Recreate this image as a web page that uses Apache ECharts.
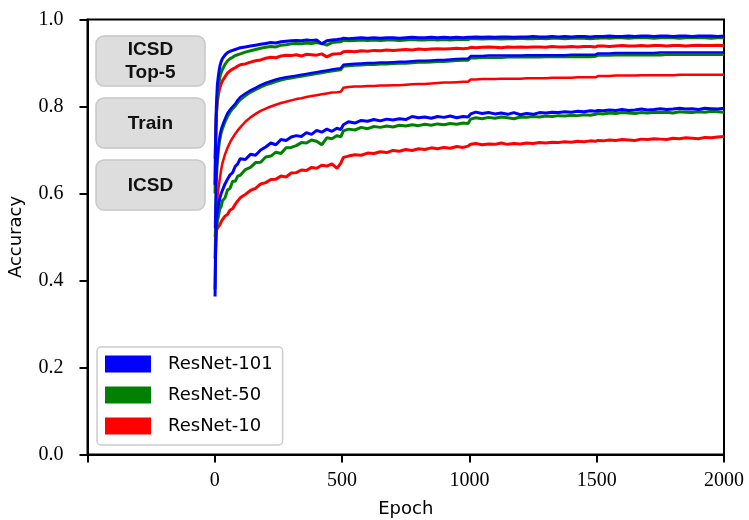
<!DOCTYPE html>
<html>
<head>
<meta charset="utf-8">
<script src="https://cdn.jsdelivr.net/npm/echarts@6/dist/echarts.min.js"></script>
<style>html,body{margin:0;padding:0;background:#fff}#c{width:749px;height:520px}</style>
</head>
<body>
<div id="c"></div>
<script>
const epochs = [1,3,6,10,15,20,25,30,40,50,60,70,80,90,100,
120,140,160,180,200,220,240,260,280,300,320,340,360,380,400,420,440,460,480,495,
505,525,550,575,600,625,650,675,700,725,750,775,800,825,850,875,900,925,950,975,995,
1005,1025,1050,1075,1100,1125,1150,1175,1200,1225,1250,1275,1300,1325,1350,1375,1400,1425,1450,1475,1495,
1505,1525,1550,1575,1600,1625,1650,1675,1700,1725,1750,1775,1800,1825,1850,1875,1900,1925,1950,1975,2000];

const modelNames = ['ResNet-101','ResNet-50','ResNet-10'];
const panelLabels = ['ICSD\nTop-5','Train','ICSD'];
const xTicks = [-500,0,500,1000,1500,2000];
const yTicks = [0,0.2,0.4,0.6,0.8,1.0];

const icsd101 = [0.363,0.47,0.535,0.56,0.575,0.59,0.60,0.603,0.622,0.633,0.643,0.648,0.662,0.668,0.68,
0.678,0.69,0.688,0.70,0.707,0.716,0.712,0.724,0.722,0.73,0.733,0.731,0.74,0.736,0.745,0.741,0.748,0.743,0.75,0.747,
0.758,0.765,0.762,0.768,0.766,0.770,0.767,0.771,0.769,0.772,0.770,0.777,0.774,0.776,0.773,0.777,0.775,0.778,0.774,0.777,0.776,
0.783,0.787,0.784,0.786,0.783,0.785,0.782,0.786,0.781,0.784,0.782,0.786,0.785,0.787,0.786,0.788,0.787,0.789,0.788,0.790,0.789,
0.791,0.790,0.792,0.791,0.793,0.791,0.792,0.794,0.792,0.793,0.795,0.793,0.794,0.796,0.794,0.795,0.793,0.796,0.795,0.794,0.796];
const icsd50 = [0.38,0.46,0.51,0.535,0.55,0.565,0.57,0.583,0.59,0.608,0.612,0.628,0.628,0.64,0.642,
0.655,0.66,0.671,0.672,0.684,0.686,0.695,0.692,0.705,0.706,0.71,0.717,0.716,0.723,0.72,0.712,0.728,0.726,0.733,0.73,
0.744,0.748,0.746,0.752,0.749,0.754,0.752,0.755,0.753,0.757,0.755,0.758,0.756,0.759,0.757,0.760,0.758,0.761,0.759,0.762,0.761,
0.771,0.774,0.772,0.775,0.773,0.776,0.774,0.772,0.776,0.775,0.777,0.776,0.778,0.777,0.779,0.778,0.780,0.779,0.781,0.780,0.782,
0.784,0.783,0.785,0.784,0.786,0.785,0.784,0.786,0.785,0.787,0.786,0.787,0.785,0.788,0.787,0.786,0.788,0.787,0.789,0.788,0.787];
const icsd10 = [0.45,0.50,0.515,0.52,0.518,0.528,0.535,0.54,0.548,0.552,0.562,0.565,0.575,0.583,0.59,
0.598,0.607,0.612,0.622,0.625,0.632,0.633,0.64,0.638,0.647,0.648,0.654,0.653,0.66,0.658,0.665,0.663,0.668,0.658,0.67,
0.683,0.686,0.689,0.688,0.693,0.692,0.696,0.694,0.699,0.697,0.701,0.699,0.703,0.701,0.705,0.703,0.706,0.704,0.708,0.706,0.709,
0.713,0.715,0.712,0.714,0.713,0.716,0.713,0.715,0.714,0.716,0.715,0.717,0.716,0.718,0.717,0.719,0.718,0.720,0.719,0.721,0.720,
0.722,0.721,0.723,0.722,0.724,0.723,0.722,0.725,0.724,0.726,0.725,0.724,0.727,0.726,0.728,0.727,0.726,0.729,0.728,0.730,0.731];

const train101 = [0.52,0.58,0.64,0.68,0.715,0.735,0.748,0.757,0.772,0.785,0.793,0.80,0.806,0.815,0.822,
0.83,0.837,0.843,0.849,0.854,0.858,0.862,0.865,0.867,0.869,0.871,0.873,0.875,0.877,0.879,0.881,0.883,0.885,0.887,0.888,
0.896,0.897,0.898,0.899,0.900,0.900,0.901,0.901,0.902,0.903,0.903,0.904,0.905,0.905,0.906,0.907,0.907,0.908,0.909,0.910,0.910,
0.916,0.916,0.916,0.917,0.917,0.917,0.917,0.917,0.917,0.918,0.918,0.918,0.918,0.918,0.918,0.918,0.919,0.919,0.919,0.919,0.919,
0.922,0.922,0.922,0.923,0.923,0.923,0.923,0.923,0.923,0.923,0.924,0.924,0.924,0.924,0.924,0.924,0.924,0.924,0.924,0.924,0.924];
const train50 = [0.50,0.56,0.62,0.665,0.70,0.722,0.737,0.747,0.763,0.776,0.786,0.794,0.800,0.808,0.815,
0.824,0.832,0.838,0.844,0.849,0.853,0.857,0.860,0.863,0.865,0.867,0.869,0.871,0.873,0.875,0.877,0.879,0.881,0.883,0.884,
0.892,0.893,0.894,0.895,0.896,0.896,0.897,0.897,0.898,0.899,0.899,0.900,0.901,0.901,0.902,0.903,0.903,0.904,0.905,0.906,0.906,
0.911,0.911,0.912,0.912,0.912,0.912,0.913,0.913,0.913,0.913,0.913,0.913,0.914,0.914,0.914,0.914,0.914,0.914,0.914,0.914,0.915,
0.917,0.917,0.917,0.918,0.918,0.918,0.918,0.918,0.918,0.918,0.918,0.919,0.919,0.919,0.919,0.919,0.919,0.919,0.919,0.919,0.919];
const train10 = [0.50,0.53,0.56,0.59,0.615,0.635,0.655,0.67,0.69,0.705,0.718,0.728,0.737,0.745,0.752,
0.765,0.775,0.783,0.79,0.795,0.80,0.804,0.808,0.811,0.814,0.817,0.819,0.822,0.824,0.826,0.828,0.830,0.832,0.833,0.834,
0.843,0.845,0.846,0.846,0.847,0.847,0.848,0.848,0.849,0.849,0.850,0.851,0.852,0.852,0.853,0.854,0.855,0.855,0.856,0.857,0.857,
0.862,0.862,0.863,0.863,0.863,0.864,0.864,0.864,0.864,0.865,0.865,0.865,0.865,0.866,0.866,0.866,0.866,0.867,0.867,0.867,0.867,
0.870,0.870,0.870,0.871,0.871,0.871,0.871,0.872,0.872,0.872,0.872,0.872,0.872,0.873,0.873,0.873,0.873,0.873,0.873,0.873,0.873];

const top5_101 = [0.62,0.72,0.80,0.85,0.875,0.893,0.903,0.91,0.918,0.924,0.927,0.929,0.931,0.933,0.935,
0.937,0.939,0.941,0.943,0.945,0.947,0.946,0.949,0.950,0.951,0.952,0.951,0.953,0.952,0.953,0.944,0.951,0.953,0.954,0.955,
0.957,0.956,0.957,0.958,0.957,0.958,0.957,0.958,0.958,0.957,0.958,0.959,0.958,0.958,0.959,0.958,0.959,0.958,0.959,0.958,0.959,
0.959,0.960,0.959,0.960,0.959,0.960,0.960,0.959,0.960,0.960,0.961,0.960,0.960,0.961,0.960,0.961,0.960,0.961,0.961,0.960,0.961,
0.961,0.961,0.962,0.961,0.961,0.962,0.961,0.962,0.962,0.961,0.962,0.962,0.961,0.962,0.962,0.961,0.962,0.962,0.962,0.961,0.962];
const top5_50 = [0.60,0.70,0.78,0.825,0.85,0.868,0.878,0.885,0.897,0.905,0.91,0.913,0.917,0.919,0.921,
0.925,0.928,0.931,0.934,0.936,0.938,0.937,0.941,0.942,0.944,0.945,0.944,0.946,0.945,0.947,0.945,0.941,0.947,0.948,0.949,
0.952,0.951,0.952,0.953,0.952,0.953,0.952,0.953,0.953,0.952,0.953,0.954,0.953,0.953,0.954,0.953,0.954,0.953,0.954,0.954,0.954,
0.956,0.956,0.955,0.956,0.956,0.955,0.956,0.956,0.957,0.956,0.956,0.957,0.956,0.957,0.957,0.956,0.957,0.957,0.957,0.956,0.957,
0.957,0.958,0.957,0.958,0.958,0.957,0.958,0.958,0.958,0.957,0.958,0.958,0.958,0.957,0.958,0.958,0.958,0.958,0.957,0.958,0.958];
const top5_10 = [0.68,0.72,0.78,0.81,0.83,0.843,0.852,0.859,0.868,0.877,0.882,0.886,0.889,0.893,0.896,
0.898,0.902,0.905,0.907,0.911,0.913,0.912,0.916,0.918,0.917,0.919,0.916,0.920,0.919,0.918,0.921,0.914,0.920,0.921,0.922,
0.926,0.927,0.926,0.928,0.927,0.929,0.928,0.930,0.929,0.930,0.931,0.930,0.932,0.931,0.932,0.933,0.932,0.933,0.934,0.933,0.934,
0.936,0.935,0.936,0.937,0.936,0.935,0.937,0.936,0.937,0.936,0.937,0.937,0.936,0.938,0.937,0.937,0.938,0.937,0.938,0.938,0.937,
0.939,0.939,0.938,0.939,0.940,0.939,0.939,0.940,0.939,0.940,0.940,0.939,0.940,0.940,0.939,0.940,0.941,0.940,0.940,0.941,0.940];

const colors = {'ResNet-101':'#0000ff','ResNet-50':'#008000','ResNet-10':'#ff0000'};
const groups = [
  {name:'ResNet-10', sets:[[icsd10,3],[train10,2.5],[top5_10,3]]},
  {name:'ResNet-50', sets:[[icsd50,3],[train50,2.5],[top5_50,3]]},
  {name:'ResNet-101', sets:[[icsd101,3],[train101,2.5],[top5_101,3]]}
];
const series = [];
groups.forEach(g => g.sets.forEach(([vals,w]) => {
  series.push({
    name: g.name, type: 'line', symbol: 'none', animation: false,
    color: colors[g.name],
    lineStyle: {width: w, color: colors[g.name]},
    data: epochs.map((e,i) => [e, vals[i]])
  });
}));

const chart = echarts.init(document.getElementById('c'), null, {renderer:'canvas'});
const tickFont = {fontFamily:'"Liberation Serif", serif', fontSize:20, color:'#000'};
const boxY = [36, 98, 160];
const graphic = [];
panelLabels.forEach((t,i) => {
  graphic.push({type:'rect', x:96, y:boxY[i], z:10,
    shape:{width:109, height:50, r:8},
    style:{fill:'#dddddd', stroke:'#c8c8c8', lineWidth:1.5}});
  graphic.push({type:'text', z:11, x:150.5, y:boxY[i]+25.5,
    style:{text:t, fill:'#111', font:'bold 19px "Liberation Sans", sans-serif',
      align:'center', verticalAlign:'middle', lineHeight:23}});
});

chart.setOption({
  backgroundColor:'#ffffff',
  animation:false,
  grid:{left:87.5, right:25, top:19.5, bottom:65.5, containLabel:false, outerBoundsMode:'none',
    show:true, borderColor:'#000', borderWidth:2, backgroundColor:'transparent'},
  xAxis:{type:'value', min:xTicks[0], max:xTicks[xTicks.length-1], interval:500,
    name:'Epoch', nameLocation:'middle', nameGap:46,
    nameTextStyle:{fontFamily:'"DejaVu Sans", sans-serif', fontSize:18, color:'#000'},
    axisLine:{show:true, onZero:false, lineStyle:{color:'#000', width:2}},
    axisTick:{show:true, length:8, lineStyle:{color:'#000', width:2}},
    axisLabel:Object.assign({margin:16, formatter:v => v < 0 ? '' : String(v), showMaxLabel:true, showMinLabel:true}, tickFont),
    splitLine:{show:false}},
  yAxis:{type:'value', min:yTicks[0], max:yTicks[yTicks.length-1], interval:0.2,
    name:'Accuracy', nameLocation:'middle', nameGap:62,
    nameTextStyle:{fontFamily:'"DejaVu Sans", sans-serif', fontSize:18, color:'#000'},
    axisLine:{show:true, onZero:false, lineStyle:{color:'#000', width:2}},
    axisTick:{show:true, length:8, lineStyle:{color:'#000', width:2}},
    axisLabel:Object.assign({margin:24, formatter:v => v.toFixed(1)}, tickFont),
    splitLine:{show:false}},
  legend:{data:modelNames, orient:'vertical', left:97, top:347,
    icon:'rect', itemWidth:46, itemHeight:17, itemGap:13,
    padding:[8,10,10,8],
    backgroundColor:'#fff', borderColor:'#cccccc', borderWidth:1.5, borderRadius:4,
    textStyle:{fontFamily:'"DejaVu Sans", sans-serif', fontSize:18, color:'#000', padding:[0,0,0,12]}},
  graphic: graphic,
  series: series
});
</script>
</body>
</html>
